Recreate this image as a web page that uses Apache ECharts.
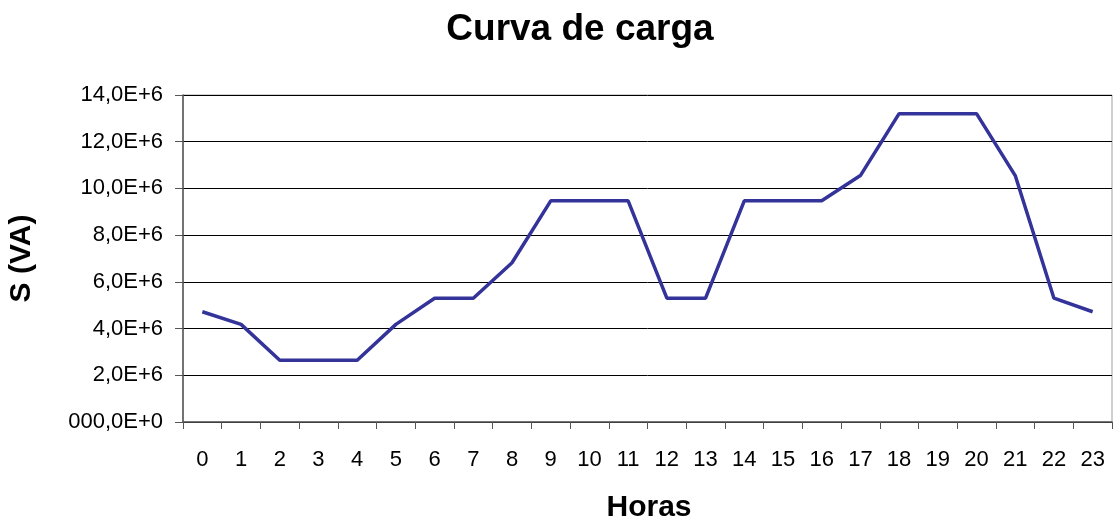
<!DOCTYPE html>
<html>
<head>
<meta charset="utf-8">
<script src="https://cdn.jsdelivr.net/npm/echarts@6/dist/echarts.min.js"></script>
<style>
  html, body { margin: 0; padding: 0; background: #fff; }
  #chart { width: 1119px; height: 525px; }
</style>
</head>
<body>
<div id="chart"></div>
<script>
// horas do dia
const horas = ['0','1','2','3','4','5','6','7','8','9','10','11','12','13','14','15','16','17','18','19','20','21','22','23'];
// potência aparente S (VA)
const potencia = [4.72e6, 4.18e6, 2.64e6, 2.64e6, 2.64e6, 4.18e6, 5.3e6, 5.3e6, 6.82e6, 9.47e6, 9.47e6, 9.47e6,
  5.3e6, 5.3e6, 9.47e6, 9.47e6, 9.47e6, 10.55e6, 13.2e6, 13.2e6, 13.2e6, 10.55e6, 5.3e6, 4.72e6];
// rótulos do eixo y
const yTicks = ['000,0E+0', '2,0E+6', '4,0E+6', '6,0E+6', '8,0E+6', '10,0E+6', '12,0E+6', '14,0E+6'];

const font = 'Liberation Sans, Arial, sans-serif';
const chart = echarts.init(document.getElementById('chart'));
chart.setOption({
  animation: false,
  title: {
    text: 'Curva de carga',
    left: 575, top: 6, textAlign: 'center',
    textStyle: { fontFamily: font, fontSize: 37, fontWeight: 'bold', color: '#000' }
  },
  grid: {
    left: 183, right: 7, top: 95, bottom: 103,
    outerBoundsMode: 'none',
    containLabel: false,
    show: true, borderColor: '#a0a0a0', borderWidth: 1
  },
  xAxis: {
    type: 'category',
    data: horas,
    boundaryGap: true,
    name: 'Horas',
    nameLocation: 'middle',
    nameGap: 71,
    nameTextStyle: { fontFamily: font, fontSize: 30, fontWeight: 'bold', color: '#000', padding: [0, 0, 0, 3] },
    axisLine: { lineStyle: { color: '#555', width: 1.5 } },
    axisTick: { show: true, length: 7, alignWithLabel: false, lineStyle: { color: '#555' } },
    axisLabel: { fontFamily: font, fontSize: 22, color: '#000', margin: 27, interval: 0 }
  },
  yAxis: {
    type: 'value',
    min: 0, max: 14e6, interval: 2e6,
    name: 'S (VA)',
    nameLocation: 'middle',
    nameGap: 146,
    nameRotate: 90,
    nameTextStyle: { fontFamily: font, fontSize: 30, fontWeight: 'bold', color: '#000' },
    axisLine: { show: true, lineStyle: { color: '#555', width: 1.5 } },
    axisTick: { show: true, length: 8, lineStyle: { color: '#555' } },
    axisLabel: {
      fontFamily: font, fontSize: 22, color: '#000', margin: 20,
      formatter: (v) => yTicks[Math.round(v / 2e6)]
    },
    splitLine: { lineStyle: { color: '#000', width: 1 } }
  },
  series: [{
    type: 'line',
    data: potencia,
    symbol: 'none',
    lineStyle: { color: '#333399', width: 3.5 },
    itemStyle: { color: '#333399' }
  }]
});
</script>
</body>
</html>
